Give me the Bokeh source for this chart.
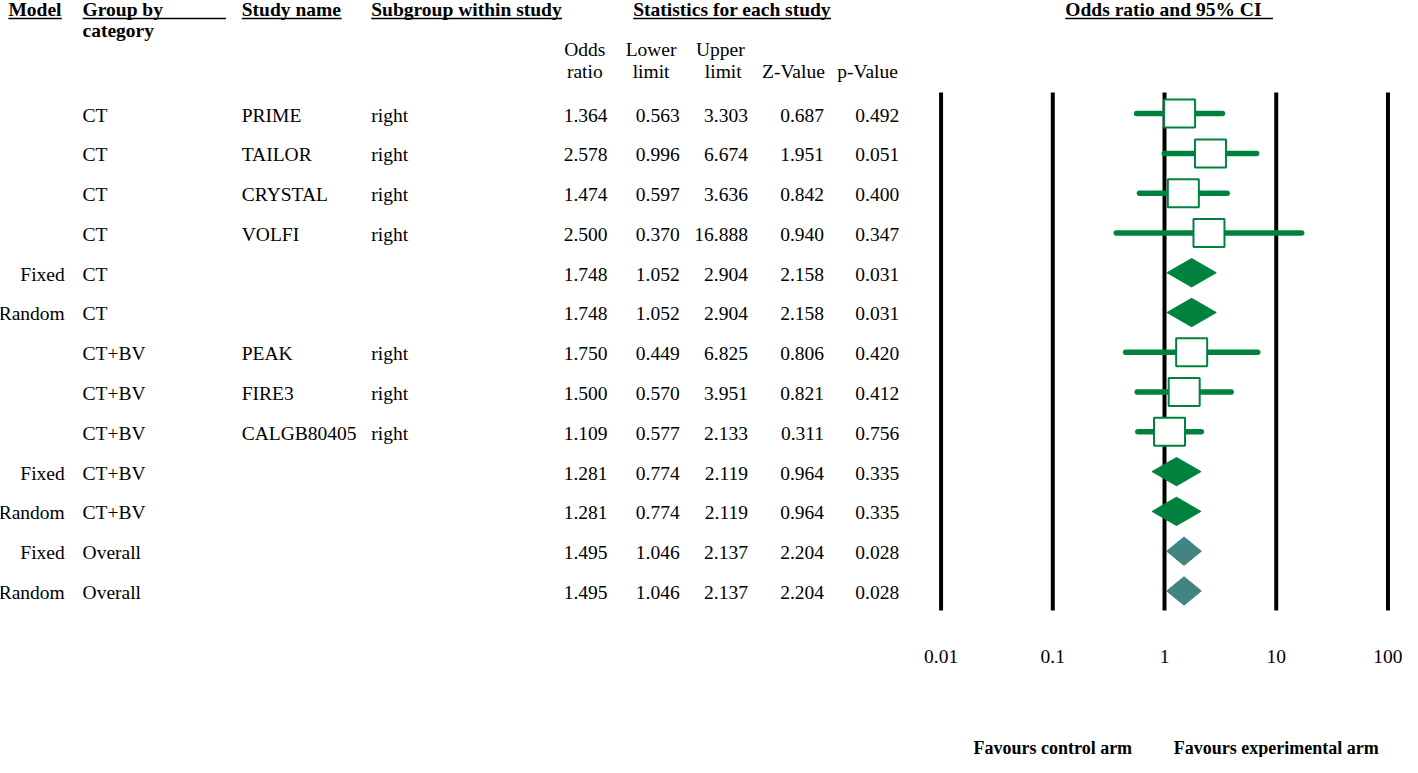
from bokeh.plotting import figure
from bokeh.models import Range1d, LogScale, ColumnDataSource
from bokeh.core.properties import value
from bokeh.embed import file_html
from bokeh.resources import INLINE

# ---------------- data ----------------
models = ["", "", "", "", "Fixed", "Random", "", "", "", "Fixed", "Random", "Fixed", "Random"]
groups = ["CT", "CT", "CT", "CT", "CT", "CT", "CT+BV", "CT+BV", "CT+BV", "CT+BV", "CT+BV", "Overall", "Overall"]
studies = ["PRIME", "TAILOR", "CRYSTAL", "VOLFI", "", "", "PEAK", "FIRE3", "CALGB80405", "", "", "", ""]
subgroups = ["right", "right", "right", "right", "", "", "right", "right", "right", "", "", "", ""]
odds_ratio = [1.364, 2.578, 1.474, 2.500, 1.748, 1.748, 1.750, 1.500, 1.109, 1.281, 1.281, 1.495, 1.495]
lower_limit = [0.563, 0.996, 0.597, 0.370, 1.052, 1.052, 0.449, 0.570, 0.577, 0.774, 0.774, 1.046, 1.046]
upper_limit = [3.303, 6.674, 3.636, 16.888, 2.904, 2.904, 6.825, 3.951, 2.133, 2.119, 2.119, 2.137, 2.137]
z_value = [0.687, 1.951, 0.842, 0.940, 2.158, 2.158, 0.806, 0.821, 0.311, 0.964, 0.964, 2.204, 2.204]
p_value = [0.492, 0.051, 0.400, 0.347, 0.031, 0.031, 0.420, 0.412, 0.756, 0.335, 0.335, 0.028, 0.028]
row_kind = ["study", "study", "study", "study", "sub", "sub", "study", "study", "study", "sub", "sub", "overall", "overall"]

tick_values = [0.01, 0.1, 1, 10, 100]
tick_labels = ["0.01", "0.1", "1", "10", "100"]
left_label = "Favours control arm"
right_label = "Favours experimental arm"

# ---------------- layout ----------------
FONT = value("Liberation Serif")
FS = "19.5px"
GREEN = "#00823F"
TEAL = "#428384"

W, H = 1402, 757
p = figure(width=W, height=H, output_backend="svg", toolbar_location=None,
           x_range=Range1d(0, 1418), y_range=Range1d(773, 0),
           x_axis_location=None, y_axis_location=None,
           min_border=0, outline_line_color=None, background_fill_color="white")
p.grid.grid_line_color = None

# log scale for odds ratio panel
px_lo, px_hi = 951.3, 1403.3          # pixel positions of 0.01 and 100
dec = (px_hi - px_lo) / 4.0
lo = -2 - px_lo / dec
hi = 2 + (1418 - px_hi) / dec
p.extra_x_ranges = {"or": Range1d(10 ** lo, 10 ** hi)}
p.extra_x_scales = {"or": LogScale()}

ROW0, STEP = 115.5, 40.62
n = len(odds_ratio)
ys = [ROW0 + i * STEP for i in range(n)]
ty = [y + 1.5 for y in ys]

src = ColumnDataSource(dict(
    y=ty, model=models, group=groups, study=studies, sub=subgroups,
    orr=["%.3f" % v for v in odds_ratio], lo=["%.3f" % v for v in lower_limit],
    up=["%.3f" % v for v in upper_limit], z=["%.3f" % v for v in z_value],
    pv=["%.3f" % v for v in p_value]))

def col(x, field, align):
    p.text(x=x, y="y", text=field, source=src, text_font=FONT, text_font_size=FS,
           text_align=align, text_baseline="middle", text_color="black")

col(65, "model", "right")
col(83, "group", "left")
col(244, "study", "left")
col(375, "sub", "left")
col(614, "orr", "right")
col(687, "lo", "right")
col(756, "up", "right")
col(833, "z", "right")
col(909, "pv", "right")

# headers (bold, underlined)
hdr_text = ["Model", "Group by", "Study name", "Subgroup within study", "Statistics for each study", "Odds ratio and 95% CI"]
hdr_x = [8, 83, 244, 375, 640, 1077]
hdr_ul_end = [62, 228, 345, 568, 840, 1287]
p.text(x=hdr_x, y=[9] * len(hdr_x), text=hdr_text, text_font=FONT, text_font_size=FS,
       text_font_style="bold", text_align="left", text_baseline="middle", text_color="black")
p.segment(x0=hdr_x, y0=[18.5] * len(hdr_x), x1=hdr_ul_end, y1=[18.5] * len(hdr_x),
          line_color="black", line_width=1.5)
p.text(x=[83], y=[31], text=["category"], text_font=FONT, text_font_size=FS,
       text_font_style="bold", text_align="left", text_baseline="middle", text_color="black")

# column sub-headers
p.text(x=[591, 658, 728], y=[50, 50, 50], text=["Odds", "Lower", "Upper"], text_font=FONT,
       text_font_size=FS, text_align="center", text_baseline="middle", text_color="black")
p.text(x=[591, 658, 731, 802, 877], y=[73] * 5, text=["ratio", "limit", "limit", "Z-Value", "p-Value"],
       text_font=FONT, text_font_size=FS, text_align="center", text_baseline="middle", text_color="black")

# vertical reference lines
p.segment(x0=tick_values, x1=tick_values, y0=[94] * 5, y1=[623] * 5, x_range_name="or",
          line_color="black", line_width=4)

# study rows: CI lines + boxes
st = [i for i, k in enumerate(row_kind) if k == "study"]
ssrc = ColumnDataSource(dict(
    y=[ys[i] for i in st], orr=[odds_ratio[i] for i in st],
    lo=[lower_limit[i] for i in st], up=[upper_limit[i] for i in st]))
p.segment(x0="lo", x1="up", y0="y", y1="y", source=ssrc, x_range_name="or",
          line_color=GREEN, line_width=5.5, line_cap="round")
p.rect(x="orr", y="y", width=31, height=28, width_units="screen", height_units="screen",
       source=ssrc, x_range_name="or", fill_color="white", line_color=GREEN, line_width=2)

# summary diamonds
dxs, dys, dcol = [], [], []
half = 14.5
for i, k in enumerate(row_kind):
    if k == "study":
        continue
    dxs.append([lower_limit[i], odds_ratio[i], upper_limit[i], odds_ratio[i]])
    dys.append([ys[i], ys[i] - half, ys[i], ys[i] + half])
    dcol.append(GREEN if k == "sub" else TEAL)
p.patches(xs=dxs, ys=dys, x_range_name="or", fill_color=dcol, line_color=dcol, line_width=1)

# tick labels
p.text(x=tick_values, y=[670] * 5, text=tick_labels, x_range_name="or", text_font=FONT,
       text_font_size=FS, text_align="center", text_baseline="middle", text_color="black")

# favours labels
p.text(x=[0.1, 10], y=[763, 763], text=[left_label, right_label], x_range_name="or",
       text_font=FONT, text_font_size="18px", text_font_style="bold",
       text_align="center", text_baseline="middle", text_color="black")

open("out.html", "w").write(file_html(p, INLINE))
